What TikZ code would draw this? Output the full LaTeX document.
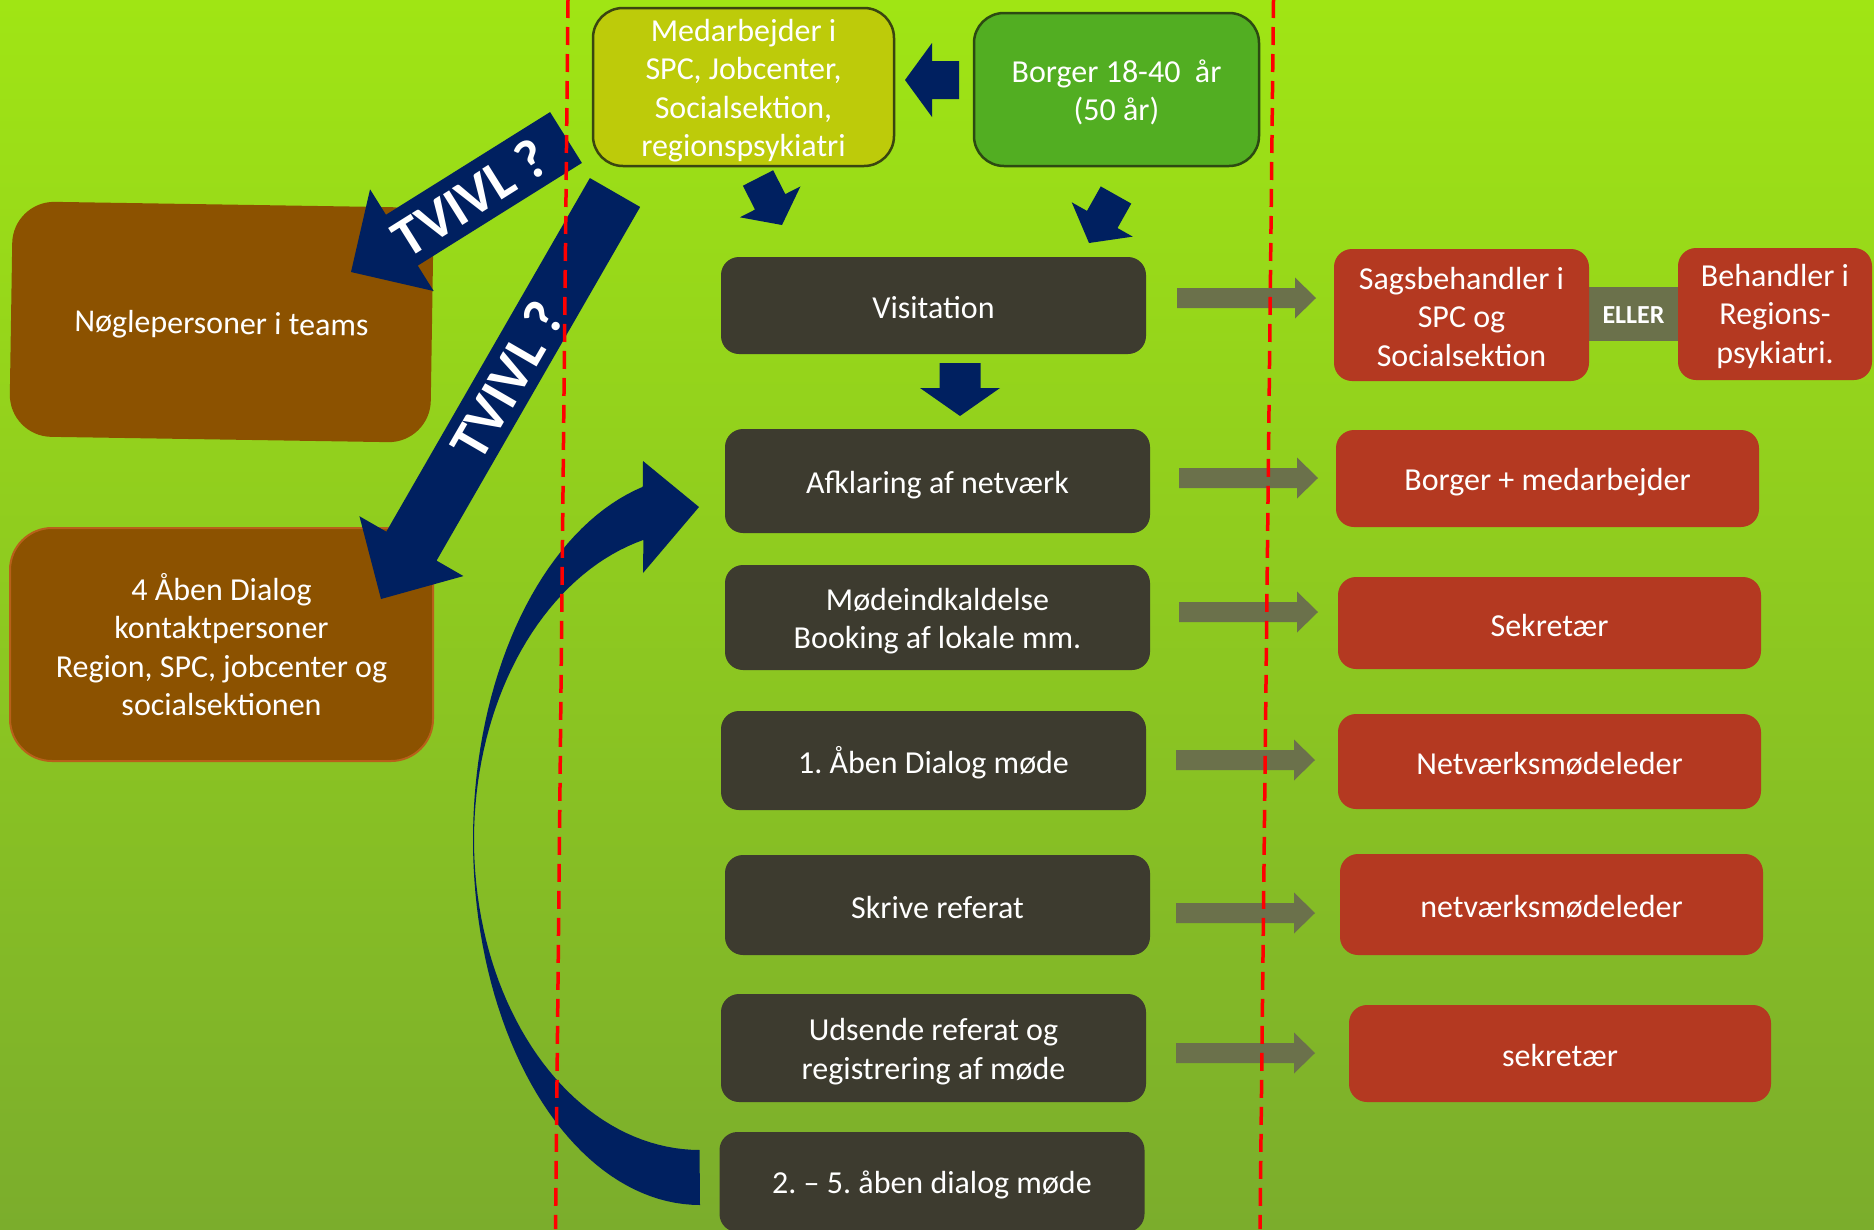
\documentclass[tikz,border=0pt]{standalone}
\usepackage{fontspec}
\setmainfont{Carlito}
\usetikzlibrary{calc}
\frenchspacing
\definecolor{bgtop}{HTML}{A0E514}
\definecolor{bgbot}{HTML}{7BAD2C}
\definecolor{navy}{HTML}{002060}
\definecolor{boxdark}{HTML}{3D3B2F}
\definecolor{boxred}{HTML}{B43921}
\definecolor{boxbrown}{HTML}{8C5200}
\definecolor{brownedge}{HTML}{B8601A}
\definecolor{boxyel}{HTML}{BDCB0A}
\definecolor{yeledge}{HTML}{3A4510}
\definecolor{boxgreen}{HTML}{52AE22}
\definecolor{greenedge}{HTML}{2C4A12}
\definecolor{arrgray}{HTML}{6B714B}
\definecolor{dashred}{HTML}{FF0000}
\newcommand\mainfs{\fontsize{32}{38.5}\selectfont}
% #1 start, #2 tip, #3 half shaft, #4 half head, #5 head length, #6 colour
\newcommand\fatarrow[6]{%
  \path ($(#2)!#5!(#1)$) coordinate (fah);
  \fill[#6] ($(#1)!#3!90:(#2)$) -- ($(fah)!#3!90:(#2)$) -- ($(fah)!#4!90:(#2)$) -- (#2)
    -- ($(fah)!#4!-90:(#2)$) -- ($(fah)!#3!-90:(#2)$) -- ($(#1)!#3!-90:(#2)$) -- cycle;
}
% text of a box: #1 box name, #2 downward shift, #3 text
\newcommand\boxtext[3]{\node[txt] (#1-t) at ($(#1.center)+(0,#2)$) {#3};}
\begin{document}
\begin{tikzpicture}[x=1pt,y=-1pt,
  every node/.style={inner sep=0pt, outer sep=0pt},
  txt/.style={text=white, align=center, font=\mainfs},
  stepbox/.style={fill=boxdark, rounded corners=18pt, minimum width=425pt},
  redbox/.style={fill=boxred, rounded corners=18pt},
  brownbox/.style={fill=boxbrown, rounded corners=42pt},
  medbox/.style={fill=boxyel, draw=yeledge, line width=2.5pt, rounded corners=30pt},
  borgbox/.style={fill=boxgreen, draw=greenedge, line width=2.5pt, rounded corners=30pt},
  tvivl/.style={text=white, font=\bfseries\fontsize{56}{60}\selectfont},
  redline/.style={draw=dashred, line width=3.5pt, dash pattern=on 18pt off 9pt}
]
\useasboundingbox (0,0) rectangle (1874,1229);
\clip (0,0) rectangle (1874,1229);
\shade[top color=bgtop, bottom color=bgbot] (0,0) rectangle (1874,1229);

% ELLER connector (behind red boxes)
\node[fill=arrgray, minimum width=100pt, minimum height=54pt] (eller) at (1633.5,314) {};
\node[text=white, font=\bfseries\fontsize{26}{30}\selectfont] (eller-t) at ($(eller.center)+(0,1)$) {ELLER};

% top boxes
\node[medbox, minimum width=301pt, minimum height=158pt] (med) at (743.5,87) {};
\boxtext{med}{3.5}{Medarbejder i\\SPC, Jobcenter,\\Socialsektion,\\regionspsykiatri}
\node[borgbox, minimum width=285pt, minimum height=153pt] (borg) at (1116.5,89.5) {};
\boxtext{borg}{3}{Borger 18-40\ \ år\\(50 år)}

% process steps
\node[stepbox, minimum height=97pt] (vis) at (933.5,305.5) {};
\node[stepbox, minimum height=104pt] (afk) at (937.5,481) {};
\node[stepbox, minimum height=105pt] (mod) at (937.5,617.5) {};
\node[stepbox, minimum height=99pt] (m1) at (933.5,760.5) {};
\node[stepbox, minimum height=100pt] (skr) at (937.5,905) {};
\node[stepbox, minimum height=108pt] (uds) at (933.5,1048) {};
\node[stepbox, minimum height=100pt] (m25) at (932,1182) {};
\boxtext{vis}{2.5}{Visitation}
\boxtext{afk}{3.5}{Afklaring af netværk}
\boxtext{mod}{3.5}{Mødeindkaldelse\\Booking af lokale mm.}
\boxtext{m1}{2.5}{1. Åben Dialog møde}
\boxtext{skr}{2.5}{Skrive referat}
\boxtext{uds}{3.5}{Udsende referat og\\registrering af møde}
\boxtext{m25}{3}{2. – 5. åben dialog møde}

% responsible persons
\node[redbox, minimum width=255pt, minimum height=132pt] (sag) at (1461.5,315) {};
\node[redbox, minimum width=194pt, minimum height=132pt] (beh) at (1775,314) {};
\node[redbox, minimum width=423pt, minimum height=97pt] (bm) at (1547.5,478.5) {};
\node[redbox, minimum width=423pt, minimum height=92pt] (sek) at (1549.5,623) {};
\node[redbox, minimum width=423pt, minimum height=95pt] (netv) at (1549.5,761.5) {};
\node[redbox, minimum width=423pt, minimum height=101pt] (netv2) at (1551.5,904.5) {};
\node[redbox, minimum width=422pt, minimum height=97pt] (sek2) at (1560,1053.5) {};
\boxtext{sag}{2}{Sagsbehandler i\\SPC og\\Socialsektion}
\boxtext{beh}{2}{Behandler i\\Regions-\\psykiatri.}
\boxtext{bm}{3.5}{Borger + medarbejder}
\boxtext{sek}{2}{Sekretær}
\boxtext{netv}{2}{Netværksmødeleder}
\boxtext{netv2}{2}{netværksmødeleder}
\boxtext{sek2}{2}{sekretær}

% left boxes
\node[brownbox, minimum width=421pt, minimum height=235pt, rotate=-0.9] (noeg) at (221.5,322) {};
\node[txt, rotate=-0.9] (noeg-t) at ($(noeg.center)+(0,3.5)$) {Nøglepersoner i teams};
\node[brownbox, draw=brownedge, line width=2pt, minimum width=423pt, minimum height=233pt] (aaben) at (221.5,644.5) {};
\boxtext{aaben}{0}{4 Åben Dialog\\kontaktpersoner\\Region, SPC, jobcenter og\\socialsektionen}

% grey arrows
\coordinate (g1s) at (1177,298); \coordinate (g1e) at (1316,298);
\coordinate (g2s) at (1179,478); \coordinate (g2e) at (1318,478);
\coordinate (g3s) at (1179,612); \coordinate (g3e) at (1318,612);
\coordinate (g4s) at (1176,760); \coordinate (g4e) at (1315,760);
\coordinate (g5s) at (1176,913); \coordinate (g5e) at (1315,913);
\coordinate (g6s) at (1176,1053); \coordinate (g6e) at (1315,1053);
\foreach \i in {1,...,6}{\fatarrow{g\i s}{g\i e}{10pt}{20.5pt}{21pt}{arrgray}}

% navy block arrows
\coordinate (a1s) at (959,80);    \coordinate (a1e) at (905,80);
\coordinate (a2s) at (758,178);   \coordinate (a2e) at (782,225);
\coordinate (a3s) at (1116,195);  \coordinate (a3e) at (1089,243);
\coordinate (a4s) at (960,363);   \coordinate (a4e) at (960,416);
\coordinate (t1s) at (566,137.5); \coordinate (t1e) at (351,272);
\coordinate (t2s) at (615,192.5); \coordinate (t2e) at (381,599);
\fatarrow{a1s}{a1e}{19pt}{37pt}{27pt}{navy}
\fatarrow{a2s}{a2e}{17pt}{34pt}{26pt}{navy}
\fatarrow{a3s}{a3e}{17.5pt}{35pt}{27pt}{navy}
\fatarrow{a4s}{a4e}{20.5pt}{40pt}{28pt}{navy}
\fatarrow{t1s}{t1e}{30pt}{60pt}{60pt}{navy}
\fatarrow{t2s}{t2e}{29pt}{60pt}{61pt}{navy}
\node[tvivl, rotate=32.1] (tv1) at (470,198) {TVIVL ?};
\node[tvivl, rotate=59.9] (tv2) at (507,380) {TVIVL ?};

% curved return arrow
\fill[navy] plot[domain=0:1, samples=80] ({700+227*cos(90+165.5*\x)},{840+365*sin(90+165.5*\x)})
  -- (643,461) -- (699,507) -- (643,573)
  -- plot[domain=0:1, samples=80] ({700+226*cos(255.5-165.5*\x)},{840+310*sin(255.5-165.5*\x)}) -- cycle;

% red dashed division lines
\coordinate (l1t) at (568,0);    \coordinate (l1b) at (555.5,1229);
\coordinate (l2t) at (1273.5,0); \coordinate (l2b) at (1260,1229);
\draw[redline] (l1t) -- (l1b);
\draw[redline] (l2t) -- (l2b);
\end{tikzpicture}
\end{document}
